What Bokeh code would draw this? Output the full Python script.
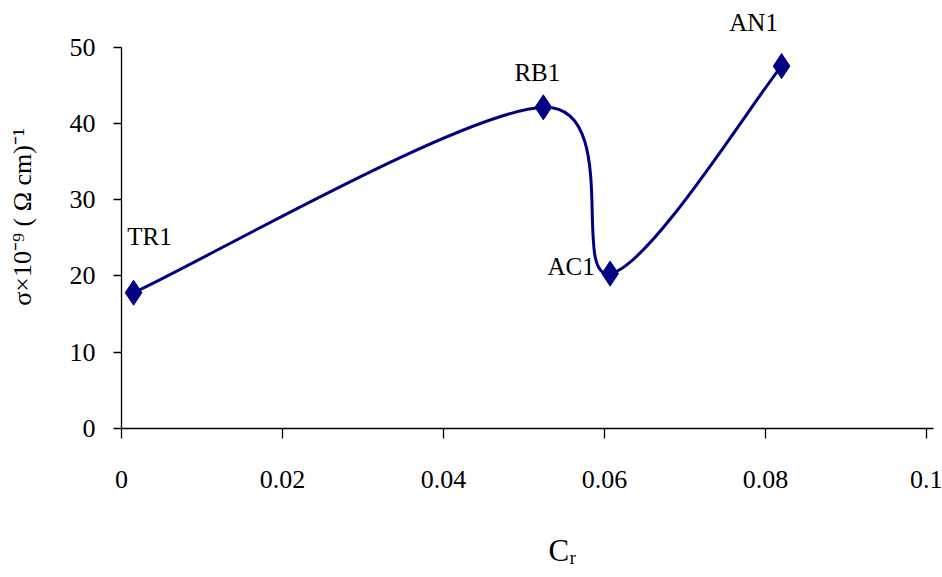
import numpy as np
from bokeh.plotting import figure
from bokeh.models import Range1d, FixedTicker, Label, ColumnDataSource
from bokeh.embed import file_html
from bokeh.resources import INLINE

# ---- data ----
names = ["TR1", "RB1", "AC1", "AN1"]
cr = [0.0015, 0.0524, 0.0607, 0.082]
sigma = [17.8, 42.1, 20.3, 47.5]
x_ticks = [0, 0.02, 0.04, 0.06, 0.08, 0.1]
x_tick_labels = ["0", "0.02", "0.04", "0.06", "0.08", "0.1"]
y_ticks = [0, 10, 20, 30, 40, 50]

# ---- styles ----
FONT = "Liberation Serif"
NAVY = "#000080"
label_offsets = [(16, 56), (-6, 35), (-39, 7), (-28, 44)]

p = figure(width=942, height=577, output_backend="svg", toolbar_location=None,
           x_range=Range1d(0, 0.10087), y_range=Range1d(0, 55.44),
           min_border_left=121, min_border_right=9, min_border_top=5,
           min_border_bottom=149)
p.outline_line_color = None
p.grid.visible = False
p.background_fill_color = "white"
p.border_fill_color = "white"

# smoothed line (Excel-like cubic bezier through data points)
P = np.column_stack([cr, sigma])
n = len(P)
segs = dict(x0=[], y0=[], x1=[], y1=[], cx0=[], cy0=[], cx1=[], cy1=[])
for i in range(n - 1):
    pa = P[i - 1] if i > 0 else P[i]
    pd = P[i + 2] if i + 2 < n else P[i + 1]
    c1 = P[i] + (P[i + 1] - pa) / 6.0
    c2 = P[i + 1] - (pd - P[i]) / 6.0
    segs["x0"].append(P[i][0]); segs["y0"].append(P[i][1])
    segs["x1"].append(P[i + 1][0]); segs["y1"].append(P[i + 1][1])
    segs["cx0"].append(c1[0]); segs["cy0"].append(c1[1])
    segs["cx1"].append(c2[0]); segs["cy1"].append(c2[1])
p.bezier(x0="x0", y0="y0", x1="x1", y1="y1", cx0="cx0", cy0="cy0",
         cx1="cx1", cy1="cy1", source=ColumnDataSource(segs),
         line_color=NAVY, line_width=3)

p.scatter(cr, sigma, marker="diamond", size=25, fill_color=NAVY,
          line_color=NAVY)

for nm, xv, yv, (dx, dy) in zip(names, cr, sigma, label_offsets):
    p.add_layout(Label(x=xv, y=yv, text=nm, x_offset=dx, y_offset=dy,
                       text_align="center", text_baseline="middle",
                       text_font=FONT, text_font_size="25px",
                       text_color="black"))

# axes
p.xaxis.ticker = FixedTicker(ticks=x_ticks)
p.xaxis.major_label_overrides = {t: l for t, l in zip(x_ticks, x_tick_labels)}
p.yaxis.ticker = FixedTicker(ticks=y_ticks)
p.yaxis.bounds = (0, 50)
for ax in (p.xaxis[0], p.yaxis[0]):
    ax.axis_line_color = "black"
    ax.axis_line_width = 1.3
    ax.major_tick_line_color = "black"
    ax.major_tick_line_width = 1.3
    ax.minor_tick_line_color = None
    ax.major_tick_in = 0
    ax.major_label_text_font = FONT
    ax.major_label_text_font_size = "26px"
    ax.major_label_text_color = "black"
    ax.axis_label_text_font = FONT
    ax.axis_label_text_font_size = "26px"
    ax.axis_label_text_font_style = "normal"
    ax.axis_label_text_color = "black"
p.xaxis.major_tick_out = 10
p.xaxis.major_label_standoff = 32
p.yaxis.major_tick_out = 8
p.yaxis.major_label_standoff = 18
p.yaxis.axis_label = "σ×10⁻⁹ ( Ω cm)⁻¹"
p.yaxis.axis_label_standoff = 30
p.xaxis.axis_label = "\u00a0" * 9 + "C\u1d63"
p.xaxis.axis_label_text_font_size = "31px"
p.xaxis.axis_label_standoff = 42

open("out.html", "w").write(file_html(p, INLINE))
